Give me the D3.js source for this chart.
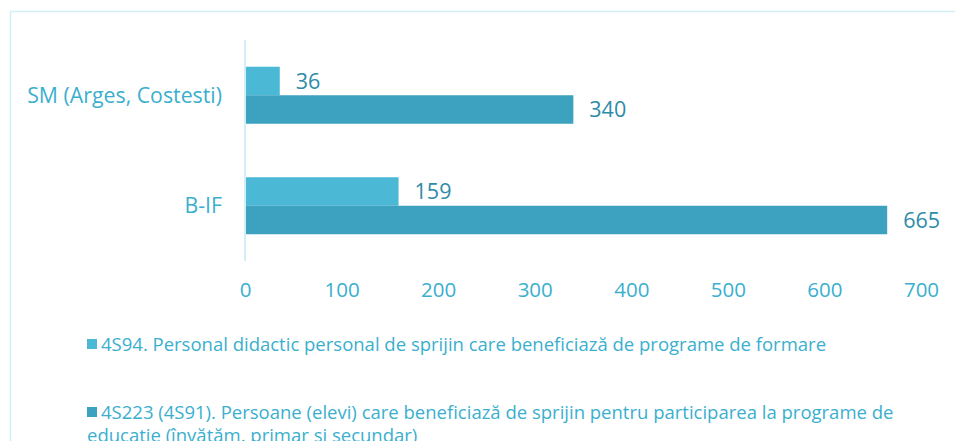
<!DOCTYPE html>
<html>
<head>
<meta charset="utf-8">
<script src="https://cdn.jsdelivr.net/npm/d3@7"></script>
<style>
  body { margin: 0; background: #fff; }
  svg { display: block; font-family: "Open Sans", sans-serif; }
</style>
</head>
<body>
<div id="chart"></div>
<script>
var categories = ["SM (Arges, Costesti)", "B-IF"];
var seriesNames = [
  "4S94. Personal didactic personal de sprijin care beneficiază de programe de formare",
  "4S223 (4S91). Persoane (elevi) care beneficiază de sprijin pentru participarea la programe de educație (învățăm. primar și secundar)"
];
var personalValues = [36, 159];
var eleviValues = [340, 665];
var xTicks = [0, 100, 200, 300, 400, 500, 600, 700];
var colors = ["#4BB8D6", "#3DA1C0"];

var width = 955, height = 441;

var svg = d3.select("#chart").append("svg")
    .attr("width", width)
    .attr("height", height);

// outer frame (right/bottom edges fall outside the picture)
svg.append("rect")
    .attr("x", 10.5).attr("y", 11.5)
    .attr("width", 960).attr("height", 450)
    .attr("fill", "none")
    .attr("stroke", "#D3EEF5")
    .attr("stroke-width", 1.5);

var x = d3.scaleLinear().domain([0, 700]).range([245, 921]);
var y = d3.scaleBand().domain(categories).range([40, 261])
    .paddingInner(0.484).paddingOuter(0.242);
var ySub = d3.scaleBand().domain([0, 1]).range([0, y.bandwidth()]);

var rows = categories.map(function (c, i) {
  return { cat: c, values: [personalValues[i], eleviValues[i]] };
});

var groups = svg.selectAll("g.cat")
    .data(rows)
    .enter().append("g")
    .attr("class", "cat")
    .attr("transform", function (d) { return "translate(0," + y(d.cat) + ")"; });

groups.selectAll("rect")
    .data(function (d) { return d.values; })
    .enter().append("rect")
    .attr("x", x(0))
    .attr("y", function (d, i) { return ySub(i); })
    .attr("width", function (d) { return x(d) - x(0); })
    .attr("height", ySub.bandwidth())
    .attr("fill", function (d, i) { return colors[i]; });

groups.selectAll("text.val")
    .data(function (d) { return d.values; })
    .enter().append("text")
    .attr("class", "val")
    .attr("x", function (d) { return x(d) + 16; })
    .attr("y", function (d, i) { return ySub(i) + ySub.bandwidth() / 2; })
    .attr("dy", "0.36em")
    .attr("font-size", "21.5px")
    .attr("fill", "#2D8BA7")
    .text(function (d) { return d; });

// category axis line
svg.append("line")
    .attr("x1", x(0)).attr("x2", x(0))
    .attr("y1", 40).attr("y2", 261)
    .attr("stroke", "#D3EEF5")
    .attr("stroke-width", 2);

// category labels
svg.selectAll("text.cat")
    .data(categories)
    .enter().append("text")
    .attr("class", "cat")
    .attr("x", 222)
    .attr("y", function (d) { return y(d) + y.bandwidth() / 2; })
    .attr("dy", "0.36em")
    .attr("text-anchor", "end")
    .attr("font-size", "21.3px")
    .attr("fill", "#3AAFCE")
    .text(function (d) { return d; });

// value axis
var xAxis = d3.axisBottom(x).tickValues(xTicks).tickSize(0).tickPadding(0);
var gx = svg.append("g")
    .attr("transform", "translate(0,282)")
    .call(xAxis);
gx.select(".domain").remove();
gx.selectAll("text")
    .attr("font-family", "'Open Sans', sans-serif")
    .attr("font-size", "20.5px")
    .attr("fill", "#3AAFCE");

// legend
var legendY = [344, 412];
var legend = svg.selectAll("g.legend")
    .data(seriesNames)
    .enter().append("g")
    .attr("class", "legend")
    .attr("transform", function (d, i) { return "translate(87," + legendY[i] + ")"; });

legend.append("rect")
    .attr("x", 0).attr("y", -5)
    .attr("width", 10).attr("height", 10)
    .attr("fill", function (d, i) { return colors[i]; });

var lines = [
  [seriesNames[0]],
  ["4S223 (4S91). Persoane (elevi) care beneficiază de sprijin pentru participarea la programe de",
   "educație (învățăm. primar și secundar)"]
];
legend.each(function (d, i) {
  var t = d3.select(this).append("text")
      .attr("y", 0)
      .attr("font-size", "18.5px")
      .attr("fill", "#3AAFCE");
  lines[i].forEach(function (s, k) {
    t.append("tspan")
        .attr("x", k === 0 ? 14 : 0)
        .attr("dy", k === 0 ? "0.36em" : "23px")
        .text(s);
  });
});
</script>
</body>
</html>
